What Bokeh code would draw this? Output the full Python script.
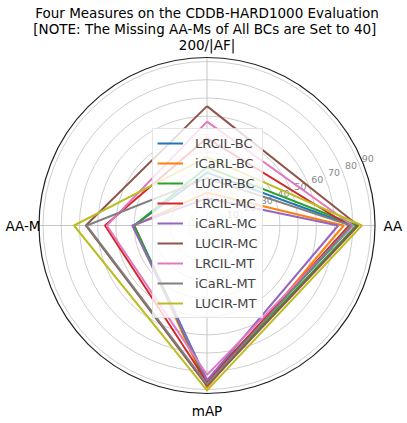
import numpy as np
from bokeh.plotting import figure
from bokeh.models import Range1d, Legend, LegendItem
from bokeh.core.properties import value
from bokeh.embed import file_html
from bokeh.resources import INLINE

# ---- data ----
axes_labels = ["200/|AF|", "AA", "mAP", "AA-M"]
series_names = ["LRCIL-BC", "iCaRL-BC", "LUCIR-BC", "LRCIL-MC", "iCaRL-MC",
                "LUCIR-MC", "LRCIL-MT", "iCaRL-MT", "LUCIR-MT"]
af_vals  = [29, 18, 32, 48, 15, 65.5, 57, 26, 37.5]
aa_vals  = [80, 75, 82, 78, 72, 83, 80, 79, 85]
map_vals = [85, 89, 87, 86, 85, 88, 82, 87, 90.5]
aam_vals = [40, 40, 40, 56, 41, 66.5, 55, 66, 73]
r_ticks = [10, 20, 30, 40, 50, 60, 70, 80, 90]
r_max = 92.2

colors = ["#1f77b4", "#ff7f0e", "#2ca02c", "#d62728", "#9467bd",
          "#8c564b", "#e377c2", "#7f7f7f", "#bcbd22"]
angles_deg = [90, 0, 270, 180]

W, H = 407, 423
K = 164 / 90.0          # px per unit
CX, CY = 206.5, 225.0   # center in frame px (from left, from top)
FONT = "DejaVu Sans"

def px(v):
    return v / K

p = figure(width=W, height=H, output_backend="svg", toolbar_location=None,
           x_range=Range1d(-CX / K, (W - CX) / K),
           y_range=Range1d(-(H - CY) / K, CY / K),
           x_axis_location=None, y_axis_location=None, min_border=0)
p.grid.visible = False
p.outline_line_color = None
p.background_fill_color = "white"
p.border_fill_color = "white"

ang = np.deg2rad(angles_deg)

# grid rings
p.circle(x=[0] * len(r_ticks), y=[0] * len(r_ticks), radius=r_ticks,
         fill_color=None, line_color="#cfcfcf", line_width=1)
# angular grid lines
for a in ang:
    p.line([0, r_max * np.cos(a)], [0, r_max * np.sin(a)],
           line_color="#c4c4c4", line_width=1)
# outer spine
p.circle(x=[0], y=[0], radius=[r_max], fill_color=None,
         line_color="#222222", line_width=1.2)

# radial tick labels at 22.5 deg
la = np.deg2rad(22.5)
p.text(x=[(v + px(10)) * np.cos(la) for v in r_ticks],
       y=[(v + px(10)) * np.sin(la) for v in r_ticks],
       text=[str(v) for v in r_ticks], text_font=value(FONT),
       text_font_size="9.5px", text_color="#888888",
       text_align="center", text_baseline="middle")

# series
items = []
for i, name in enumerate(series_names):
    vals = [af_vals[i], aa_vals[i], map_vals[i], aam_vals[i]]
    xs = [v * np.cos(a) for v, a in zip(vals, ang)]
    ys = [v * np.sin(a) for v, a in zip(vals, ang)]
    xs.append(xs[0]); ys.append(ys[0])
    r = p.line(xs, ys, line_color=colors[i], line_width=2)
    items.append(LegendItem(label=name, renderers=[r]))

# theta labels
p.text(x=[0], y=[px(181)], text=[axes_labels[0]], text_font=value(FONT),
       text_font_size="13.5px", text_align="center", text_baseline="middle")
p.text(x=[px(176.5)], y=[0], text=[axes_labels[1]], text_font=value(FONT),
       text_font_size="13.5px", text_align="left", text_baseline="middle")
p.text(x=[0], y=[-px(185)], text=[axes_labels[2]], text_font=value(FONT),
       text_font_size="13.5px", text_align="center", text_baseline="middle")
p.text(x=[-px(166.5)], y=[0], text=[axes_labels[3]], text_font=value(FONT),
       text_font_size="13.5px", text_align="right", text_baseline="middle")

# title lines
title1 = "Four Measures on the CDDB-HARD1000 Evaluation"
title2 = " [NOTE: The Missing AA-Ms of All BCs are Set to 40]"
p.text(x=[px(0)], y=[px(CY - 12)], text=[title1], text_font=value(FONT),
       text_font_size="13.5px", text_align="center", text_baseline="middle")
p.text(x=[px(0)], y=[px(CY - 28)], text=[title2], text_font=value(FONT),
       text_font_size="13.5px", text_align="center", text_baseline="middle")

legend = Legend(items=items, location=(152, 105), label_text_font=FONT,
                label_text_font_size="13px", glyph_width=26, glyph_height=20,
                label_height=20, spacing=0, padding=4, margin=0,
                label_standoff=12, border_line_color="#cccccc",
                background_fill_alpha=0.8)
p.add_layout(legend)

open("out.html", "w").write(file_html(p, INLINE))
